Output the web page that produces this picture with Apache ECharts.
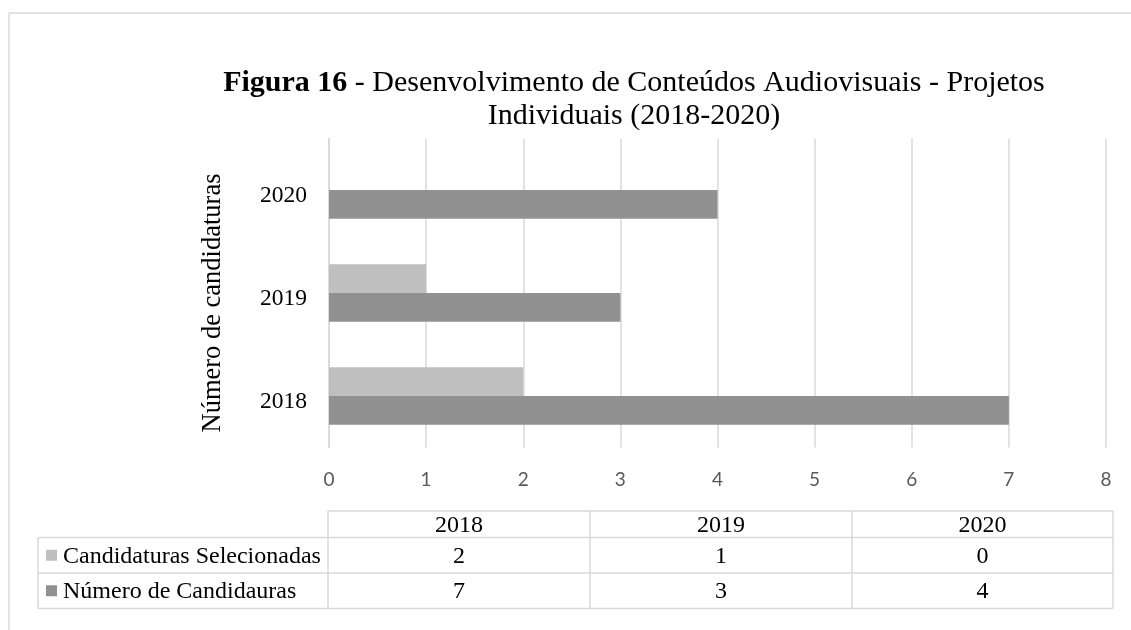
<!DOCTYPE html>
<html>
<head>
<meta charset="utf-8">
<script src="https://cdn.jsdelivr.net/npm/echarts@6/dist/echarts.min.js"></script>
<style>html,body{margin:0;padding:0;background:#fff}#c{width:1131px;height:630px}</style>
</head>
<body>
<div id="c"></div>
<script>
var categories = ['2018', '2019', '2020'];
var seriesNames = ['Candidaturas Selecionadas', 'Número de Candidauras'];
var selecionadas = [2, 1, 0];
var candidaturas = [7, 3, 4];
var xTicks = [0, 1, 2, 3, 4, 5, 6, 7, 8];
var colors = ['#BFBFBF', '#919191'];

var serif = '"Liberation Serif", "Times New Roman", serif';
var chart = echarts.init(document.getElementById('c'));

// table geometry
var tblLeft = 38, colX = [328, 590, 852, 1113], rowY = [511, 537.5, 573, 608.5];
var lineCol = '#D9D9D9';
var g = [];
// frame
g.push({type:'line', shape:{x1:9,y1:13,x2:1131,y2:13}, style:{stroke:'#D9D9D9', lineWidth:1.5}});
g.push({type:'line', shape:{x1:9,y1:13,x2:9,y2:630}, style:{stroke:'#D9D9D9', lineWidth:1.5}});
// header row
g.push({type:'line', shape:{x1:colX[0],y1:rowY[0],x2:colX[3],y2:rowY[0]}, style:{stroke:lineCol, lineWidth:1.5}});
for (var r = 1; r < rowY.length; r++) {
  g.push({type:'line', shape:{x1:tblLeft,y1:rowY[r],x2:colX[3],y2:rowY[r]}, style:{stroke:lineCol, lineWidth:1.5}});
}
g.push({type:'line', shape:{x1:tblLeft,y1:rowY[1],x2:tblLeft,y2:rowY[3]}, style:{stroke:lineCol, lineWidth:1.5}});
for (var c = 0; c < colX.length; c++) {
  g.push({type:'line', shape:{x1:colX[c],y1:rowY[0],x2:colX[c],y2:rowY[3]}, style:{stroke:lineCol, lineWidth:1.5}});
}
var tf = '24px ' + serif;
categories.forEach(function(cat, i){
  var cx = (colX[i] + colX[i+1]) / 2;
  g.push({type:'text', x:cx, y:(rowY[0]+rowY[1])/2 + 1, style:{text:cat, font:tf, fill:'#000', align:'center', verticalAlign:'middle'}});
  g.push({type:'text', x:cx, y:(rowY[1]+rowY[2])/2 + 1, style:{text:String(selecionadas[i]), font:tf, fill:'#000', align:'center', verticalAlign:'middle'}});
  g.push({type:'text', x:cx, y:(rowY[2]+rowY[3])/2 + 1, style:{text:String(candidaturas[i]), font:tf, fill:'#000', align:'center', verticalAlign:'middle'}});
});
seriesNames.forEach(function(nm, i){
  var cy = (rowY[i+1] + rowY[i+2]) / 2;
  g.push({type:'rect', shape:{x:46, y:cy-5.5, width:11, height:11}, style:{fill:colors[i]}});
  g.push({type:'text', x:63, y:cy + 1, style:{text:nm, font:tf, fill:'#000', align:'left', verticalAlign:'middle'}});
});

chart.setOption({
  animation: false,
  title: {
    text: '{b|Figura 16} - Desenvolvimento de Conteúdos Audiovisuais - Projetos\nIndividuais (2018-2020)',
    left: 629, top: 62, textAlign: 'center',
    textStyle: {
      fontFamily: serif, fontSize: 30, fontWeight: 'normal', color: '#000', lineHeight: 33,
      rich: { b: { fontFamily: serif, fontSize: 30, fontWeight: 'bold', color: '#000', lineHeight: 33 } }
    }
  },
  grid: { left: 329, right: 25, top: 138.5, bottom: 182.5, containLabel: false },
  xAxis: {
    type: 'value', min: xTicks[0], max: xTicks[xTicks.length-1], interval: 1,
    axisLine: {show: false}, axisTick: {show: false},
    splitLine: {lineStyle: {color: '#D9D9D9', width: 1.5}},
    axisLabel: {fontFamily: 'Lato, "Noto Sans", sans-serif', fontSize: 19, color: '#595959', margin: 23}
  },
  yAxis: {
    type: 'category', data: categories,
    axisLine: {show: true, lineStyle: {color: '#D9D9D9', width: 1.5}}, axisTick: {show: false},
    axisLabel: {
      margin: 22,
      formatter: function (v) { return '{a|' + v + '}'; },
      rich: { a: { fontFamily: serif, fontSize: 23.5, color: '#000', padding: [11, 0, 0, 0] } }
    },
    name: 'Número de candidaturas', nameLocation: 'middle', nameRotate: 90, nameGap: 102,
    nameTextStyle: {fontFamily: serif, fontSize: 26.5, color: '#000', padding: [0, 20, 0, 0]}
  },
  series: [
    { name: seriesNames[0], type: 'bar', data: selecionadas, itemStyle: {color: colors[0]}, barGap: '0%', barCategoryGap: '44%' },
    { name: seriesNames[1], type: 'bar', data: candidaturas, itemStyle: {color: colors[1]}, barGap: '0%', barCategoryGap: '44%' }
  ],
  graphic: g
});
</script>
</body>
</html>
